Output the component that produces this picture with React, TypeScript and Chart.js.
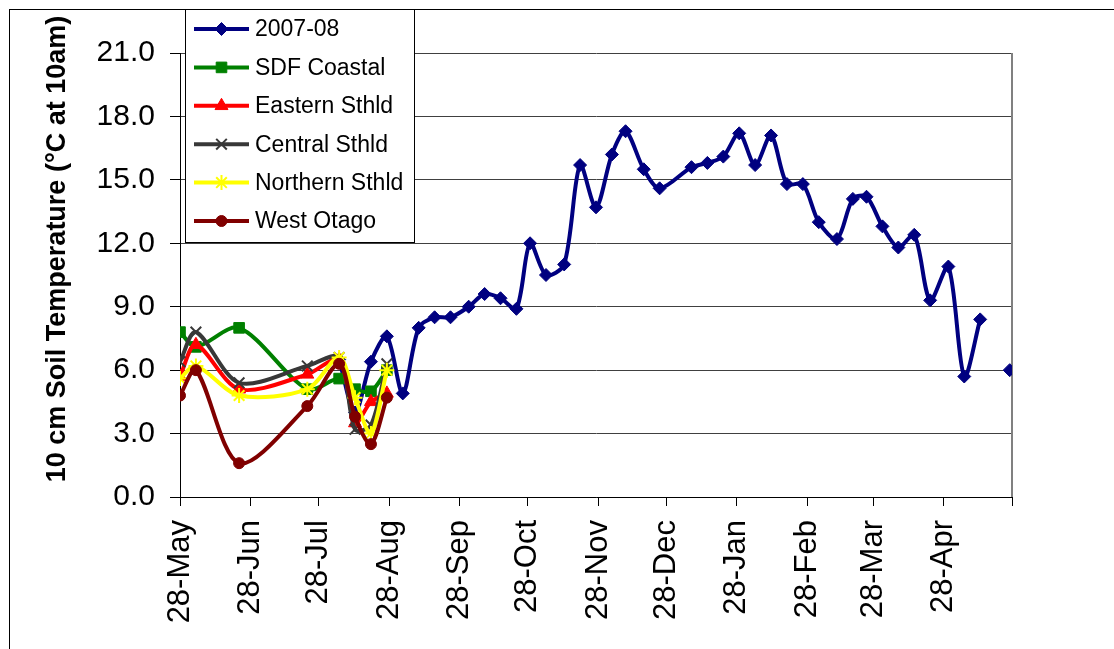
import React, { useEffect, useRef } from 'react';
import { Chart, registerables } from 'chart.js';

Chart.register(...registerables);

// ---- Data ----
const tickDays = [0, 31, 61, 92, 123, 153, 184, 214, 245, 276, 305, 336, 366];
const tickLabels = ['28-May', '28-Jun', '28-Jul', '28-Aug', '28-Sep', '28-Oct', '28-Nov', '28-Dec', '28-Jan', '28-Feb', '28-Mar', '28-Apr', ''];
const yTickValues = [0, 3, 6, 9, 12, 15, 18, 21];

const seasonDays = [70, 77, 84, 91, 98, 105, 112, 119, 127, 134, 141, 148, 154, 161, 169, 176, 183, 190, 196, 204, 211, 225, 232, 239, 246, 253, 260, 267, 274, 281, 289, 296, 302, 309, 316, 323, 330, 338, 345, 352, 358, 365];
const season0708 = [6.5, 4.0, 6.4, 7.6, 4.9, 8.0, 8.5, 8.5, 9.0, 9.6, 9.4, 8.9, 12.0, 10.5, 11.0, 15.7, 13.7, 16.2, 17.3, 15.5, 14.6, 15.6, 15.8, 16.1, 17.2, 15.7, 17.1, 14.8, 14.8, 13.0, 12.2, 14.1, 14.2, 12.8, 11.8, 12.4, 9.3, 10.9, 5.7, 8.4, null, 6.0];

const siteDays = [0, 7, 26, 56, 70, 77, 84, 91];
const sdfCoastal = [7.8, 7.1, 8.0, 5.1, 5.6, 5.1, 5.0, 6.0];
const easternSthld = [5.7, 7.2, 5.1, 5.8, 6.5, 3.5, 4.5, 4.9];
const centralSthld = [6.4, 7.8, 5.4, 6.2, 6.6, 3.2, 3.4, 6.3];
const northernSthld = [5.6, 6.2, 4.8, 5.1, 6.6, 4.7, 3.0, 6.0];
const westOtago = [4.8, 6.0, 1.6, 4.3, 6.3, 3.8, 2.5, 4.7];

const seriesNames = ['2007-08', 'SDF Coastal', 'Eastern Sthld', 'Central Sthld', 'Northern Sthld', 'West Otago'];
const yTitle = '10 cm Soil Temperature (°C at 10am)';

const FONT = '"Liberation Sans", Arial, sans-serif';

const toPoints = (xs: number[], ys: (number | null)[]) => xs.map((x, i) => ({ x, y: ys[i] }));

function drawMarker(ctx: CanvasRenderingContext2D, style: string, x: number, y: number, r: number, color: string, bw: number) {
  ctx.save();
  ctx.fillStyle = color;
  ctx.strokeStyle = color;
  ctx.lineWidth = bw;
  ctx.beginPath();
  if (style === 'rectRot') {
    ctx.moveTo(x, y - r); ctx.lineTo(x + r, y); ctx.lineTo(x, y + r); ctx.lineTo(x - r, y); ctx.closePath();
    ctx.fill(); ctx.stroke();
  } else if (style === 'rect') {
    const s = r * Math.SQRT1_2;
    ctx.rect(x - s, y - s, 2 * s, 2 * s);
    ctx.fill(); ctx.stroke();
  } else if (style === 'triangle') {
    ctx.moveTo(x, y - r);
    ctx.lineTo(x + r * 0.866, y + r / 2);
    ctx.lineTo(x - r * 0.866, y + r / 2);
    ctx.closePath();
    ctx.fill(); ctx.stroke();
  } else if (style === 'crossRot' || style === 'star') {
    const d = r * Math.SQRT1_2;
    ctx.moveTo(x - d, y - d); ctx.lineTo(x + d, y + d);
    ctx.moveTo(x - d, y + d); ctx.lineTo(x + d, y - d);
    if (style === 'star') {
      ctx.moveTo(x, y - r); ctx.lineTo(x, y + r);
      ctx.moveTo(x - r, y); ctx.lineTo(x + r, y);
    }
    ctx.stroke();
  } else {
    ctx.arc(x, y, r, 0, Math.PI * 2);
    ctx.fill(); ctx.stroke();
  }
  ctx.restore();
}

const framePlugin = {
  id: 'frame',
  beforeDraw(chart: any) {
    const { ctx, width, height } = chart;
    ctx.save();
    ctx.fillStyle = '#ffffff';
    ctx.fillRect(0, 0, width, height);
    ctx.strokeStyle = '#000';
    ctx.lineWidth = 1;
    ctx.strokeRect(9.5, 9.5, width + 20, height + 20);
    ctx.restore();
  },
  beforeDatasetsDraw(chart: any) {
    const { ctx, chartArea } = chart;
    ctx.save();
    ctx.strokeStyle = '#808080';
    ctx.lineWidth = 2;
    ctx.beginPath();
    ctx.moveTo(chartArea.right, chartArea.top);
    ctx.lineTo(chartArea.right, chartArea.bottom);
    ctx.stroke();
    ctx.restore();
  },
  afterDraw(chart: any) {
    const ctx = chart.ctx as CanvasRenderingContext2D;
    ctx.save();
    // y-axis title
    ctx.translate(58, 249);
    ctx.rotate(-Math.PI / 2);
    ctx.font = 'bold 27px ' + FONT;
    ctx.fillStyle = '#000';
    ctx.textAlign = 'center';
    ctx.textBaseline = 'middle';
    ctx.fillText(yTitle, 0, 0);
    ctx.restore();

    // legend
    ctx.save();
    ctx.fillStyle = '#fff';
    ctx.fillRect(185, 9, 230, 234);
    ctx.strokeStyle = '#000';
    ctx.lineWidth = 1;
    ctx.strokeRect(185.5, 9.5, 229, 233);
    chart.data.datasets.forEach((ds: any, i: number) => {
      const y = 29 + i * 38.4;
      ctx.strokeStyle = ds.borderColor;
      ctx.lineWidth = 4;
      ctx.beginPath();
      ctx.moveTo(194, y);
      ctx.lineTo(249, y);
      ctx.stroke();
      drawMarker(ctx, ds.pointStyle, 221.5, y, ds.pointRadius, ds.borderColor, ds.pointBorderWidth);
      ctx.fillStyle = '#000';
      ctx.font = '23px ' + FONT;
      ctx.textAlign = 'left';
      ctx.textBaseline = 'middle';
      ctx.fillText(ds.label, 255, y + 1);
    });
    ctx.restore();
  },
};

function makeDataset(label: string, data: any[], color: string, pointStyle: string, radius: number, bw: number, order: number) {
  return {
    label,
    data,
    borderColor: color,
    backgroundColor: color,
    pointBackgroundColor: color,
    pointBorderColor: color,
    pointStyle,
    pointRadius: radius,
    pointBorderWidth: bw,
    borderWidth: 4,
    tension: 0.3,
    spanGaps: false,
    order,
  };
}

export default function App() {
  const ref = useRef<HTMLCanvasElement | null>(null);

  useEffect(() => {
    if (!ref.current) return;
    const chart = new Chart(ref.current, {
      type: 'line',
      data: {
        datasets: [
          makeDataset(seriesNames[0], toPoints(seasonDays, season0708), '#000080', 'rectRot', 6.5, 1, 5),
          makeDataset(seriesNames[1], toPoints(siteDays, sdfCoastal), '#008000', 'rect', 7.5, 1, 4),
          makeDataset(seriesNames[2], toPoints(siteDays, easternSthld), '#ff0000', 'triangle', 7.5, 1, 3),
          makeDataset(seriesNames[3], toPoints(siteDays, centralSthld), '#383838', 'crossRot', 7.5, 2, 2),
          makeDataset(seriesNames[4], toPoints(siteDays, northernSthld), '#ffff00', 'star', 7.5, 2, 1),
          makeDataset(seriesNames[5], toPoints(siteDays, westOtago), '#800000', 'circle', 5.5, 1, 0),
        ] as any,
      },
      options: {
        animation: false,
        responsive: false,
        layout: { padding: { left: 0, top: 53, right: 102, bottom: 0 } },
        plugins: {
          legend: { display: false },
          tooltip: { enabled: false },
        },
        scales: {
          x: {
            type: 'linear',
            min: 0,
            max: 366,
            afterBuildTicks: (s: any) => {
              s.ticks = tickDays.map((v) => ({ value: v }));
            },
            afterFit: (s: any) => {
              s.height = 152;
            },
            ticks: {
              autoSkip: false,
              minRotation: 90,
              maxRotation: 90,
              padding: 14,
              color: '#000',
              font: { family: FONT, size: 31 },
              callback: (v: any) => tickLabels[tickDays.indexOf(Number(v))] ?? '',
            },
            grid: { drawOnChartArea: false, drawTicks: true, tickLength: 9, color: '#000', tickColor: '#000' },
            border: { display: true, color: '#000', width: 1 },
          },
          y: {
            min: 0,
            max: 21,
            afterBuildTicks: (s: any) => {
              s.ticks = yTickValues.map((v) => ({ value: v }));
            },
            afterFit: (s: any) => {
              s.width = 180;
            },
            ticks: {
              padding: 15,
              color: '#000',
              font: { family: FONT, size: 30 },
              callback: (v: any) => Number(v).toFixed(1),
            },
            grid: { color: '#404040', lineWidth: 1, tickLength: 10, tickColor: '#000' },
            border: { display: true, color: '#000', width: 1 },
          },
        },
      } as any,
      plugins: [framePlugin],
    });
    return () => chart.destroy();
  }, []);

  return (
    <div style={{ position: 'absolute', left: 0, top: 0, width: 1114, height: 649 }}>
      <canvas ref={ref} width={1114} height={649} style={{ display: 'block' }} />
    </div>
  );
}
